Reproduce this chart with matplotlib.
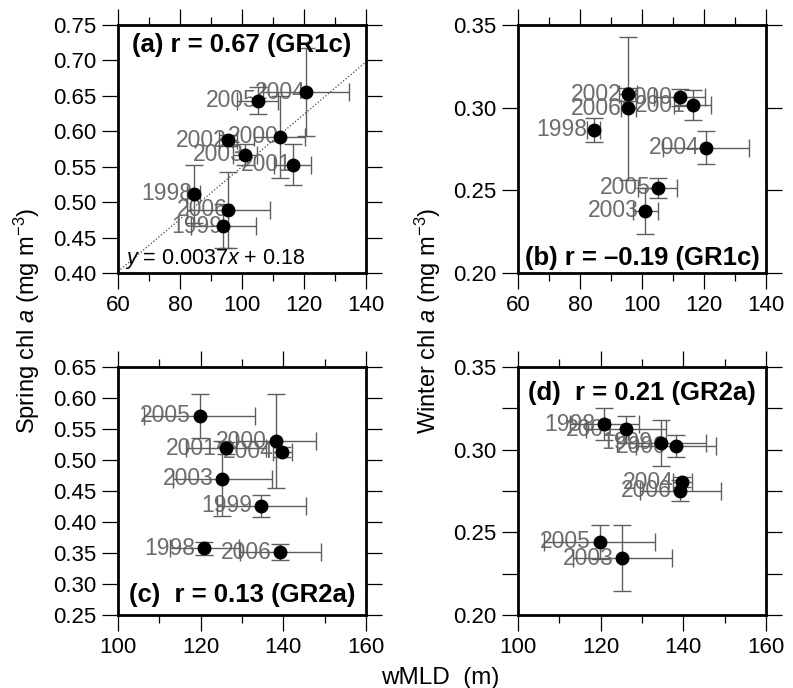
import matplotlib
matplotlib.use('Agg')
import matplotlib.pyplot as plt
from matplotlib.ticker import MultipleLocator, FormatStrFormatter

plt.rcParams['font.family'] = ['Liberation Sans', 'DejaVu Sans']
plt.rcParams['mathtext.fontset'] = 'custom'
plt.rcParams['mathtext.rm'] = 'Liberation Sans'
plt.rcParams['mathtext.it'] = 'Liberation Sans:italic'

# GR1c: wMLD vs chl a (panels a, b)
years_a = ['1998', '1999', '2000', '2001', '2002', '2003', '2004', '2005', '2006']
mld_a = [84.4, 94.0, 112.2, 116.3, 95.5, 101.0, 120.7, 105.0, 95.6]
mld_a_err = [2.0, 10.5, 8.2, 6.0, 3.0, 3.8, 13.8, 6.6, 13.3]
spring_a = [0.512, 0.466, 0.592, 0.553, 0.587, 0.567, 0.655, 0.643, 0.489]
spring_a_err = [0.041, 0.031, 0.058, 0.029, 0.008, 0.015, 0.062, 0.019, 0.054]

years_b = ['1998', '2000', '2001', '2002', '2003', '2004', '2005', '2006']
mld_b = [84.4, 112.2, 116.3, 95.5, 101.0, 120.7, 105.0, 95.6]
mld_b_err = [2.0, 8.2, 6.0, 3.0, 4.0, 13.8, 6.4, 2.5]
winter_b = [0.2865, 0.3063, 0.3016, 0.3080, 0.2377, 0.2758, 0.2516, 0.2995]
winter_b_err = [0.0075, 0.005, 0.009, 0.004, 0.014, 0.010, 0.006, 0.0435]

# GR2a: wMLD vs chl a (panels c, d)
years_c = ['1998', '1999', '2000', '2001', '2003', '2004', '2005', '2006']
mld_c = [120.9, 134.7, 138.2, 126.1, 125.2, 139.7, 119.8, 139.2]
mld_c_err = [8.3, 10.7, 9.7, 9.7, 12.0, 2.3, 13.4, 9.8]
spring_c = [0.3575, 0.4260, 0.5306, 0.5190, 0.4700, 0.5130, 0.5710, 0.3510]
spring_c_err = [0.010, 0.018, 0.076, 0.010, 0.060, 0.008, 0.035, 0.013]

winter_d = [0.3154, 0.3042, 0.3022, 0.3123, 0.2343, 0.2803, 0.2442, 0.2752]
winter_d_err = [0.0097, 0.014, 0.0066, 0.008, 0.020, 0.003, 0.0103, 0.0062]

fit_slope, fit_icpt = 0.0037, 0.18

bar_col = '#5e5e5e'
lab_col = '#6c6c6c'

fig = plt.figure(figsize=(7.93, 6.88), dpi=100)
W, H = 793, 688


def make_ax(x0, y0):
    return fig.add_axes([x0 / W, 1 - (y0 + 248) / H, 248 / W, 248 / H])


def panel(ax, xs, xe, ys, ye, yrs, lab_dx, xlim, ylim, yminor=None):
    for x, y, yr in zip(xs, ys, yrs):
        ax.annotate(yr, (x, y), xytext=(lab_dx, 0), textcoords='offset points',
                    ha='right', va='center', color=lab_col, fontsize=16.5, zorder=1)
    ax.errorbar(xs, ys, xerr=xe, yerr=ye, fmt='none', ecolor=bar_col,
                elinewidth=1.0, capsize=6.5, capthick=1.0, zorder=2)
    ax.plot(xs, ys, 'o', color='black', markersize=9, zorder=3)
    ax.set_xlim(*xlim)
    ax.set_ylim(*ylim)
    ax.xaxis.set_major_locator(MultipleLocator(20))
    ax.xaxis.set_minor_locator(MultipleLocator(10))
    ax.yaxis.set_major_locator(MultipleLocator(0.05))
    ax.yaxis.set_major_formatter(FormatStrFormatter('%.2f'))
    ax.tick_params(which='both', direction='out', top=True, right=True,
                   width=0.9, labelsize=16, pad=4)
    ax.tick_params(which='major', length=11.5)
    ax.tick_params(which='minor', length=5.5)
    if yminor:
        ax.yaxis.set_minor_locator(MultipleLocator(yminor))
        ax.tick_params(axis='y', which='minor', length=11.5)
    for s in ax.spines.values():
        s.set_linewidth(2.0)


ax_a = make_ax(118, 25)
panel(ax_a, mld_a, mld_a_err, spring_a, spring_a_err, years_a, -0.7, (60, 140), (0.40, 0.75))
fx = [60, 140]
ax_a.plot(fx, [fit_slope * v + fit_icpt for v in fx], ':', color='#444444', lw=0.9, zorder=0)
ax_a.text(0.5, 0.918, '(a) r = 0.67 (GR1c)', transform=ax_a.transAxes,
          ha='center', va='center', fontsize=18.5, fontweight='bold')
ax_a.text(0.03, 0.058, '$y$ = 0.0037$x$ + 0.18', transform=ax_a.transAxes,
          ha='left', va='center', fontsize=15.5)

ax_b = make_ax(518, 25)
panel(ax_b, mld_b, mld_b_err, winter_b, winter_b_err, years_b, -4.8, (60, 140), (0.20, 0.35))
ax_b.text(0.5, 0.062, '(b) r = \u20130.19 (GR1c)', transform=ax_b.transAxes,
          ha='center', va='center', fontsize=18.5, fontweight='bold')

ax_c = make_ax(118, 367)
panel(ax_c, mld_c, mld_c_err, spring_c, spring_c_err, years_c, -6.3, (100, 160), (0.25, 0.65))
ax_c.text(0.5, 0.082, '(c)  r = 0.13 (GR2a)', transform=ax_c.transAxes,
          ha='center', va='center', fontsize=18.5, fontweight='bold')

ax_d = make_ax(518, 367)
panel(ax_d, mld_c, mld_c_err, winter_d, winter_d_err, years_c, -6.3, (100, 160), (0.20, 0.35),
      yminor=0.025)
ax_d.text(0.5, 0.896, '(d)  r = 0.21 (GR2a)', transform=ax_d.transAxes,
          ha='center', va='center', fontsize=18.5, fontweight='bold')

fig.text(27 / W, 1 - 321 / H, 'Spring chl $a$ (mg m$^{-3}$)', rotation=90,
         ha='center', va='center', fontsize=17)
fig.text(428 / W, 1 - 321 / H, 'Winter chl $a$ (mg m$^{-3}$)', rotation=90,
         ha='center', va='center', fontsize=17)
fig.text(440 / W, 1 - 684 / H, 'wMLD  (m)', ha='center', va='baseline', fontsize=17.5)

fig.savefig('out.png', dpi=100)
